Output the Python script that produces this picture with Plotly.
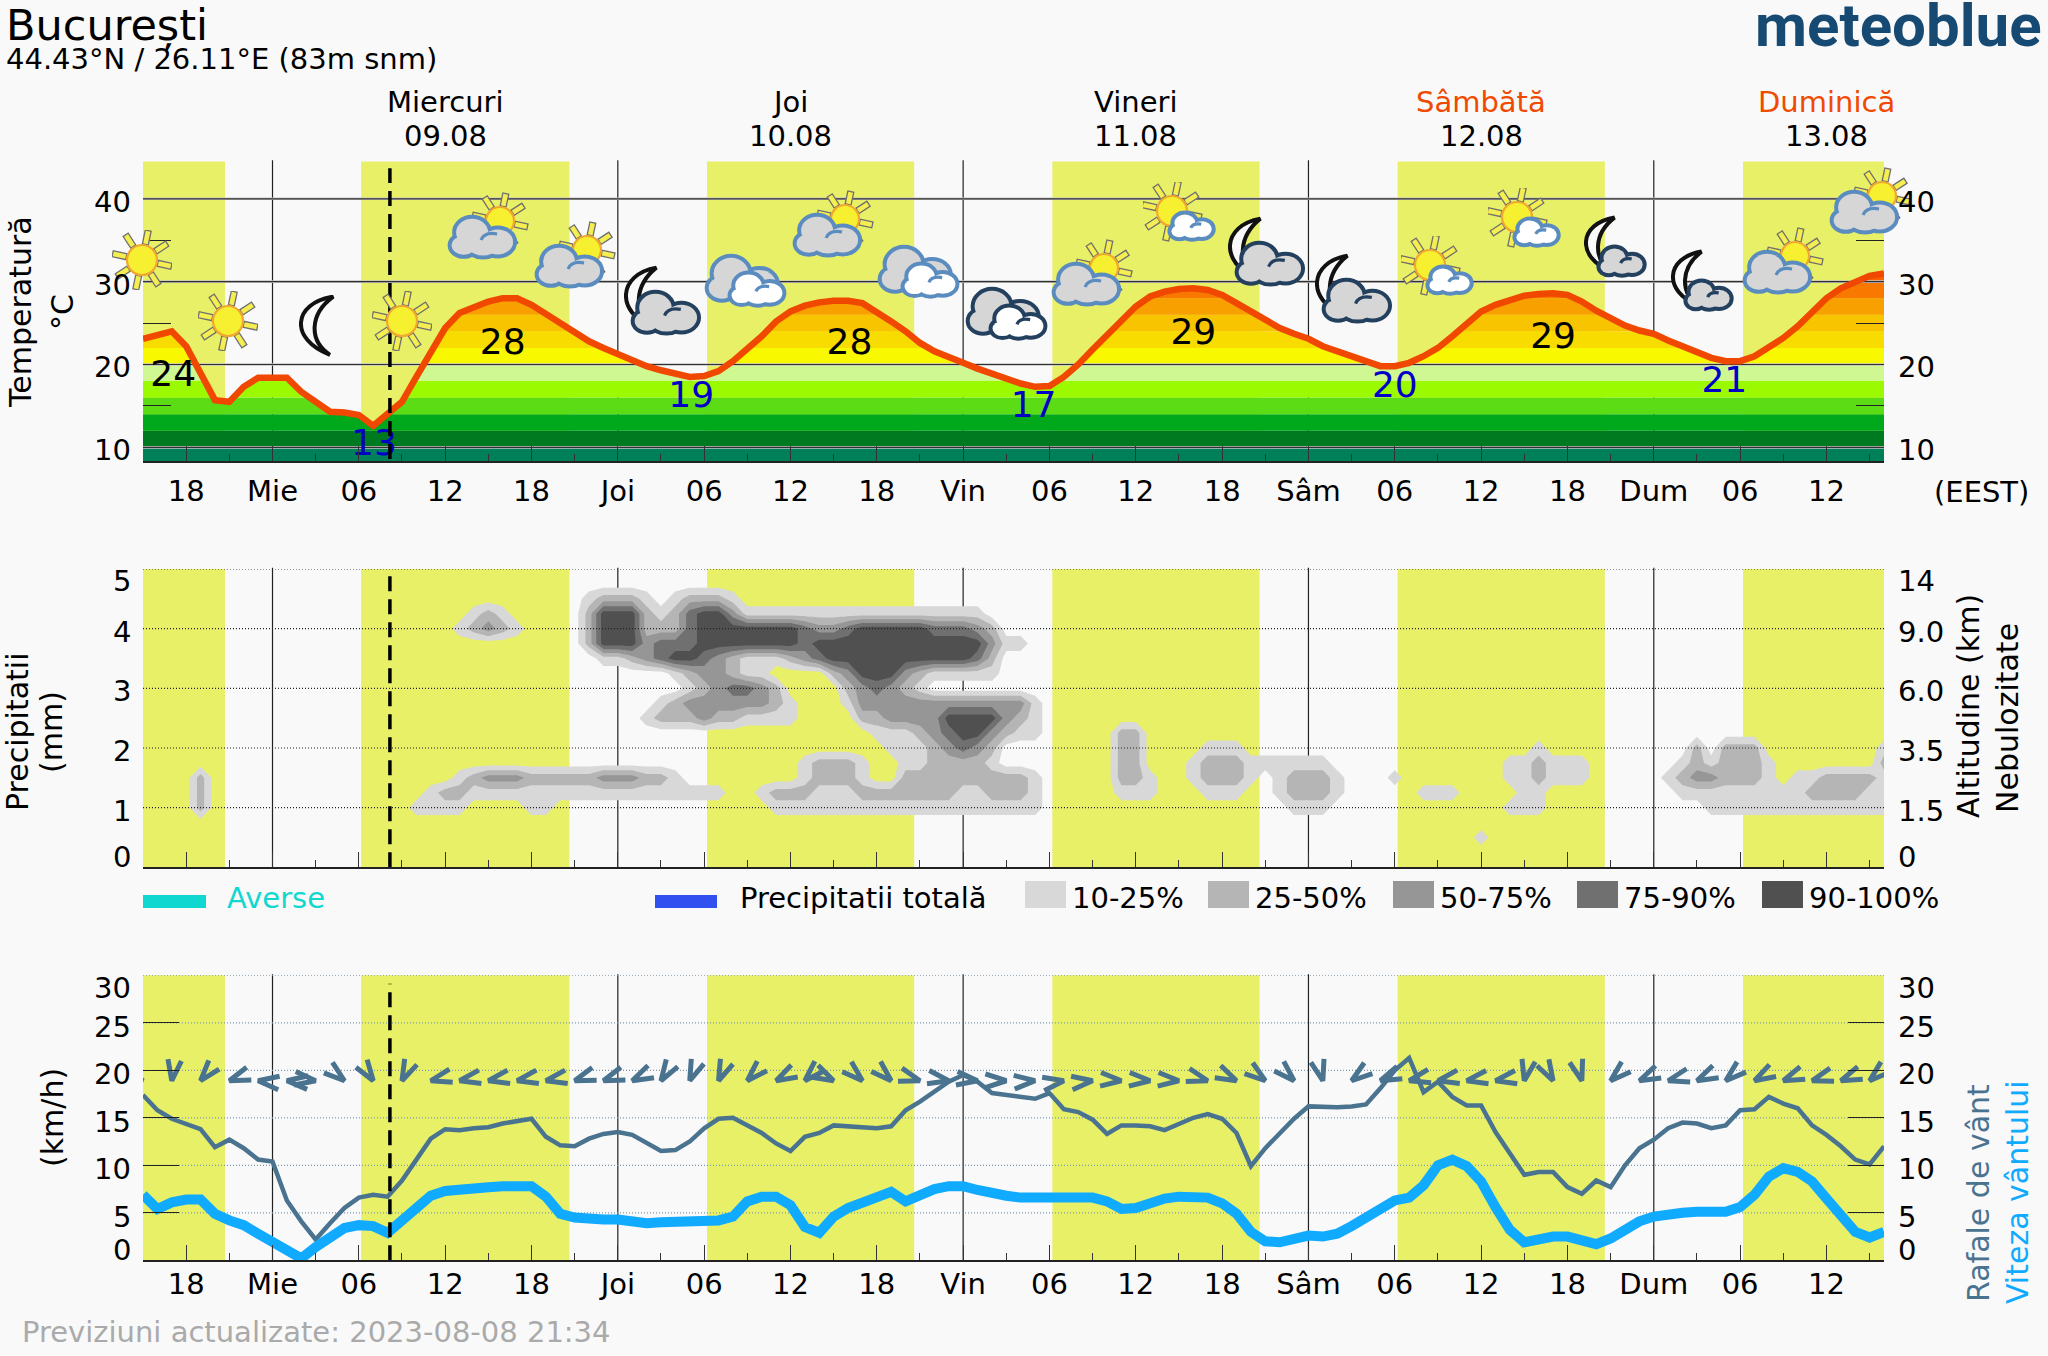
import base64
import math
import numpy as np
import plotly.graph_objects as go

# ---------- data ----------
HOURS = list(range(-9, 113))   # hours from 09.08 00:00 (EEST)
TEMPERATURE = [23.1, 23.6, 24.0, 22.2, 19.0, 15.7, 15.5, 17.3, 18.4, 18.4, 18.4, 16.7, 15.5, 14.3, 14.2, 13.9, 12.6, 14.1, 15.5,
               18.5, 21.4, 24.4, 26.2, 27.0, 27.6, 28.0, 28.0, 27.2, 26.1, 25.0, 23.8, 22.8, 22.0, 21.2, 20.4, 19.8, 19.3,
               18.9, 18.5, 18.6, 19.2, 20.4, 21.8, 23.4, 25.2, 26.4, 27.1, 27.5, 27.7, 27.7, 27.4, 26.4, 25.2, 24.0, 22.6,
               21.6, 21.0, 20.2, 19.5, 18.9, 18.2, 17.7, 17.3, 17.4, 18.5, 20.0, 21.8, 23.6, 25.4, 27.0, 28.2, 28.8, 29.1,
               29.2, 29.0, 28.4, 27.4, 26.4, 25.3, 24.4, 23.7, 23.1, 22.2, 21.6, 20.8, 20.2, 19.8, 19.8, 20.2, 21.0, 22.0,
               23.4, 24.8, 26.4, 27.2, 27.8, 28.3, 28.5, 28.6, 28.4, 27.6, 26.5, 25.5, 24.7, 24.1, 23.7, 22.9, 22.2, 21.4,
               20.8, 20.4, 20.4, 21.0, 22.0, 23.2, 24.6, 26.4, 28.0, 29.2, 30.0, 30.7, 31.0]
GUSTS = [17.4, 15.8, 14.9, 14.3, 13.8, 11.9, 12.7, 11.8, 10.6, 10.4, 6.3, 4.1, 2.2, 3.9, 5.5, 6.6, 6.9, 6.7, 8.4, 10.6, 12.8,
         13.8, 13.7, 13.9, 14.0, 14.4, 14.6, 14.9, 13.0, 12.1, 12.0, 12.8, 13.3, 13.5, 13.2, 12.3, 11.5, 11.6, 12.5, 13.9,
         14.9, 15.0, 14.2, 13.4, 12.3, 11.5, 13.0, 13.4, 14.2, 14.1, 14.0, 13.9, 14.1, 15.8, 16.7, 17.7, 18.8, 19.5, 18.8,
         17.6, 17.4, 17.2, 17.0, 17.6, 15.9, 15.6, 14.8, 13.3, 14.2, 14.2, 14.1, 13.7, 14.4, 15.0, 15.4, 14.9, 13.4, 9.9,
         11.8, 13.4, 14.9, 16.2, 16.1, 16.1, 16.2, 16.4, 18.1, 20.0, 21.3, 17.7, 18.8, 17.2, 16.3, 16.3, 13.5, 11.3, 9.0,
         9.3, 9.3, 7.7, 7.0, 8.4, 7.7, 10.0, 11.8, 12.7, 13.9, 14.5, 14.4, 13.9, 14.2, 15.8, 15.9, 17.2, 16.5, 16.0, 14.2,
         13.2, 12.0, 10.6, 10.1, 12.0]
WIND = [6.9, 5.4, 6.1, 6.4, 6.4, 4.9, 4.2, 3.7, 2.8, 2.0, 1.0, 0.2, 1.4, 2.5, 3.4, 3.7, 3.6, 2.9, 4.1, 5.5, 6.8, 7.3, 7.5, 7.6,
        7.7, 7.8, 7.8, 7.8, 6.7, 4.9, 4.5, 4.3, 4.3, 4.3, 4.1, 3.9, 4.0, 4.1, 4.1, 4.2, 4.2, 4.6, 6.2, 6.7, 6.7, 5.8, 3.5,
        2.9, 4.6, 5.5, 6.0, 6.7, 7.2, 6.2, 6.9, 7.5, 7.8, 7.8, 7.4, 7.0, 6.8, 6.6, 6.6, 6.6, 6.5, 6.5, 6.6, 6.2, 5.4, 5.5,
        6.1, 6.5, 6.7, 6.7, 6.6, 6.0, 4.9, 3.0, 2.0, 1.9, 2.3, 2.6, 2.5, 2.8, 3.6, 4.6, 5.6, 6.3, 6.6, 7.9, 10.0, 10.6, 9.9,
        8.3, 5.6, 3.2, 1.9, 2.2, 2.5, 2.5, 2.1, 1.7, 2.3, 3.3, 4.1, 4.6, 4.9, 5.0, 5.1, 5.1, 5.1, 5.6, 6.9, 8.8, 9.7, 9.3,
        8.3, 6.5, 4.8, 3.0, 2.4, 3.0]
ARROW_HOURS = list(range(-9, 112, 2))
ARROW_ANGLES = [110, 188, 220, 250, 276, 275, 97, 129, 146, 205, 256, 259, 259, 259, 259, 251, 250, 244, 212, 202, 203, 225,
                242, 225, 117, 132, 133, 107, 100, 97, 90, 86, 81, 84, 94, 94, 94, 106, 116, 127, 134, 165, 233, 247, 257, 259,
                260, 260, 192, 151, 164, 228, 245, 255, 244, 229, 241, 248, 253, 248, 229]
ARROW_LEVEL = 18.9
SUN_UP = [-9, 6.16, 30.2, 54.2, 78.2, 102.2]
SUN_DOWN = [-3.3, 20.64, 44.6, 68.6, 92.6, 112]
MIDNIGHTS = [0, 24, 48, 72, 96]
NOW_HOUR = 8.16

TEMP_BAND_EDGES = [8.3, 10, 12, 14, 16, 18, 20, 22, 24, 26, 28, 30, 32]
TEMP_BAND_COLORS = ["#008058", "#007a20", "#00a81c", "#5cdc14", "#9cfa00", "#d0f892",
                    "#f8f800", "#f8dc00", "#f8c400", "#f8a000", "#f87800", "#f86000"]
EXTREME_HOURS = [-6.9, 16.0, 7.05, 29.1, 40.1, 52.9, 64.0, 78.0, 89.0, 100.9]
EXTREME_LEVELS = [18.5, 22.4, 10.15, 16.0, 22.4, 14.8, 23.6, 17.2, 23.1, 17.8]
EXTREME_TEXT = ["24", "28", "13", "19", "28", "17", "29", "20", "29", "21"]
EXTREME_COLOR = ["black", "black", "#0000c8", "#0000c8", "black", "#0000c8", "black", "#0000c8", "black", "#0000c8"]

DAY_NAMES = ["Miercuri", "Joi", "Vineri", "Sâmbătă", "Duminică"]
DAY_DATES = ["09.08", "10.08", "11.08", "12.08", "13.08"]
DAY_COLORS = ["black", "black", "black", "#f04a00", "#f04a00"]
X_TICKS = [-6, 0, 6, 12, 18, 24, 30, 36, 42, 48, 54, 60, 66, 72, 78, 84, 90, 96, 102, 108]
X_LABELS = ["18", "Mie", "06", "12", "18", "Joi", "06", "12", "18", "Vin", "06", "12", "18", "Sâm", "06", "12", "18", "Dum", "06", "12"]
X_MINOR = [-3, 3, 9, 15, 21, 27, 33, 39, 45, 51, 57, 63, 69, 75, 81, 87, 93, 99, 105, 111]

TEMP_TICKS = [10, 20, 30, 40]
TEMP_MINOR = [15, 25, 35]
PREC_TICKS = [0, 1, 2, 3, 4, 5]
ALTITUDE_LABELS = ["0", "1.5", "3.5", "6.0", "9.0", "14"]
WIND_TICKS = [0, 5, 10, 15, 20, 25, 30]

# cloud cover class (0 <10%, 1 10-25, 2 25-50, 3 50-75, 4 75-90, 5 90-100) by height row; (first hour, classes per hour)
CLOUD_CLASS_ROWS = {
    4.5: [(21, "0122210122210")],
    4.25: [(14, "121"), (21, "0255521245531"), (34, "1111111111111111")],
    4.0: [(13, "12321"), (21, "025552"), (27, "224"), (30, "5555555"), (37, "4334"), (41, "55555"), (46, "444"), (49, "320")],
    3.75: [(21, "025553444"), (30, "5555555"), (37, "4"), (38, "555555555555"), (50, "3110")],
    3.5: [(23, "112345543211123455"), (41, "55555555"), (49, "420")],
    3.25: [(28, "123321100"), (39, "2355532"), (46, "11111")],
    3.0: [(29, "12344320"), (40, "234321")],
    2.75: [(27, "1233333321000"), (40, "1"), (41, "333333333333"), (53, "1")],
    2.5: [(26, "122232211110000"), (41, "223333"), (47, "5555"), (51, "321")],
    2.25: [(42, "111234553"), (51, "211"), (59, "22")],
    2.0: [(43, "11123432"), (59, "22"), (65, "111"), (88, "1"), (99, "20222"), (112, "1")],
    1.75: [(37, "12221"), (44, "1"), (45, "122221"), (59, "22"), (64, "1222111111"), (86, "112111"), (98, "1212221"), (112, "2")],
    1.5: [(-5, "2"), (13, "1233322"), (20, "222333221"), (37, "12221"), (44, "222222222"), (53, "1"), (59, "221"),
          (64, "12221012221"), (78, "1"), (86, "112111"), (97, "1233222101122221")],
    1.25: [(-5, "2"), (11, "122111111"), (20, "111111111111"), (34, "1222111222222211222" + "1"), (59, "111"), (65, "111"),
           (70, "12221"), (80, "111"), (87, "11"), (98, "111111111222211")],
    1.0: [(-5, "2"), (10, "1111"), (18, "11"), (35, "1111111111111111111"), (71, "111"), (86, "111"), (100, "1111111111111")],
    0.5: [(84, "1")],
}
CLOUD_HEIGHTS = [i * 0.25 for i in range(21)]
CLOUD_COLORS = ["rgba(0,0,0,0)", "#d8d8d8", "#b5b5b5", "#969696", "#707070", "#505050"]
CLOUD_LEGEND = ["10-25%", "25-50%", "50-75%", "75-90%", "90-100%"]

ICONS = [("sun", 112, 230), ("sun", 198, 291), ("moon", 299, 295), ("sun", 372, 291), ("suncloud", 447, 192),
         ("suncloud", 534, 221), ("mooncloud", 624, 265), ("dcloud", 704, 253), ("suncloud", 792, 190), ("dcloud", 877, 244),
         ("dclouddark", 965, 286), ("suncloud", 1051, 239), ("sunsmall", 1143, 182), ("mooncloud", 1228, 216),
         ("mooncloud", 1315, 253), ("sunsmall", 1401, 236), ("sunsmall", 1488, 188), ("moonsmall", 1584, 215),
         ("moonsmall", 1671, 249), ("suncloud", 1742, 227), ("suncloud", 1829, 167)]

# ---------- page geometry ----------
W, H = 2048, 1356
BG = "#f9f9f9"
YELLOW = "#e8f068"
FONT = "DejaVu Sans"
TXT = 29
L_PX, R_PX = 143, 1884
DOM = {"": (161.5, 461), "2": (569, 867.3), "3": (975.3, 1260.3)}
RANGE = {"": (8.35, 44.5), "2": (0, 5), "3": (0, 30)}
STANDOFF = {"": 3, "2": 0, "3": -3}


def fx(p):
    return p / W


def fy(p):
    return 1 - p / H


# ---------- icons ----------
BLUE_ST = "#5b8cc0"
DARK_ST = "#24405f"


def sun(cx, cy, R=30, r=15):
    s = ""
    for i in range(8):
        a = 12 + 45 * i
        s += (f'<rect x="{cx-3}" y="{cy-R}" width="6" height="{R-r-1}" fill="#f5ee50" stroke="#6f6f6f" stroke-width="1.3" '
              f'transform="rotate({a} {cx} {cy})"/>')
    s += f'<circle cx="{cx}" cy="{cy}" r="{r}" fill="#f7f030" stroke="#f0a830" stroke-width="2.2"/>'
    return s


def cloud(x, y, w, h, fill, stroke, sw=4):
    lobes = [(.33, .38, .25, .36), (.73, .63, .24, .33), (.2, .72, .19, .25), (.5, .8, .2, .19)]
    out = inn = ""
    for lx, ly, rx, ry in lobes:
        cx, cy = x + lx * w, y + ly * h
        out += f'<ellipse cx="{cx}" cy="{cy}" rx="{rx*w}" ry="{ry*h}" fill="{stroke}" stroke="{stroke}" stroke-width="{2*sw}"/>'
        inn += f'<ellipse cx="{cx}" cy="{cy}" rx="{rx*w}" ry="{ry*h}" fill="{fill}"/>'
    curl = (f'<path d="M{x+.47*w} {y+.58*h} Q{x+.52*w} {y+.36*h} {x+.72*w} {y+.42*h}" fill="none" '
            f'stroke="{stroke}" stroke-width="{sw*.8}"/>')
    return out + inn + curl


def moon(x, y, w, h):
    def X(u):
        return x + u * w

    def Y(v):
        return y + v * h
    return (f'<path d="M{X(.95)} {Y(.01)} C{X(-.25)} {Y(.12)} {X(-.35)} {Y(.72)} {X(.85)} {Y(.98)} '
            f'C{X(.22)} {Y(.74)} {X(.25)} {Y(.30)} {X(.95)} {Y(.01)} Z" fill="{BG}" stroke="#111" stroke-width="4"/>')


def icon_body(kind):
    if kind == "sun":
        return 60, 60, sun(30, 30)
    if kind == "moon":
        return 38, 62, moon(2, 1, 34, 60)
    if kind == "suncloud":
        return 84, 68, sun(53, 29, 28, 14) + cloud(4, 26, 64, 38, "#d6d6d6", BLUE_ST)
    if kind == "dcloud":
        return 85, 55, cloud(4, 4, 70, 43, "#d6d6d6", BLUE_ST) + cloud(27, 21, 53, 30, "#ffffff", BLUE_ST)
    if kind == "dclouddark":
        return 85, 55, cloud(4, 4, 70, 43, "#d6d6d6", DARK_ST) + cloud(27, 21, 53, 30, "#ffffff", DARK_ST)
    if kind == "sunsmall":
        return 74, 60, sun(29, 29) + cloud(28, 32, 42, 24, "#ffffff", BLUE_ST)
    if kind == "mooncloud":
        return 79, 71, moon(2, 2, 32, 62) + cloud(10, 28, 65, 39, "#d6d6d6", DARK_ST)
    return 64, 63, moon(2, 2, 30, 56) + cloud(16, 33, 44, 26, "#d6d6d6", DARK_ST)


images = []
for kind, left, top in ICONS:
    iw, ih, body = icon_body(kind)
    svg = f'<svg xmlns="http://www.w3.org/2000/svg" width="{iw}" height="{ih}" viewBox="0 0 {iw} {ih}">{body}</svg>'
    uri = "data:image/svg+xml;base64," + base64.b64encode(svg.encode()).decode()
    images.append(dict(source=uri, xref="paper", yref="paper", x=fx(left), y=fy(top), sizex=iw / W, sizey=ih / H,
                       xanchor="left", yanchor="top", sizing="stretch", layer="above"))

# ---------- traces ----------
fig = go.Figure()
X0, X1 = HOURS[0], HOURS[-1]

grid = np.linspace(X0, X1, 2421)
temp_fine = np.interp(grid, HOURS, TEMPERATURE)
for lo, hi, col in zip(TEMP_BAND_EDGES[:-1], TEMP_BAND_EDGES[1:], TEMP_BAND_COLORS):
    top = np.minimum(temp_fine, hi)
    bot = np.minimum(temp_fine, lo)
    fig.add_trace(go.Scatter(x=np.r_[grid, grid[::-1]], y=np.r_[top, bot[::-1]], fill="toself", fillcolor=col,
                             mode="none", hoverinfo="skip", showlegend=False))


def hline(val, ax, color, width, dash="solid"):
    fig.add_trace(go.Scatter(x=[X0, X1], y=[val, val], mode="lines", line=dict(color=color, width=width, dash=dash),
                             xaxis="x" + ax, yaxis="y" + ax, hoverinfo="skip", showlegend=False))


for t in TEMP_TICKS:
    hline(t, "", "#c4c4c4", 2.6)
    hline(t, "", "#303030", 1.2)
fig.add_trace(go.Scatter(x=HOURS, y=TEMPERATURE, mode="lines", line=dict(color="#f04800", width=6.5), hoverinfo="skip",
                         showlegend=False, cliponaxis=False))
fig.add_trace(go.Scatter(x=EXTREME_HOURS, y=EXTREME_LEVELS, mode="text", text=EXTREME_TEXT, hoverinfo="skip", showlegend=False,
                         textfont=dict(family=FONT, size=36, color=EXTREME_COLOR), textposition="middle center", cliponaxis=False))

z = np.zeros((len(CLOUD_HEIGHTS), len(HOURS)))
for i, lev in enumerate(CLOUD_HEIGHTS):
    for start, digits in CLOUD_CLASS_ROWS.get(lev, []):
        for k, ch in enumerate(digits):
            z[i, start + k - X0] = int(ch)
fig.add_trace(go.Contour(x=HOURS, y=CLOUD_HEIGHTS, z=z, xaxis="x2", yaxis="y2", zmin=0, zmax=5, showscale=False, hoverinfo="skip",
                         contours=dict(start=0.5, end=4.5, size=1, coloring="fill", showlines=False), line=dict(width=0, smoothing=0),
                         colorscale=[[i / 5, c] for i, c in enumerate(CLOUD_COLORS)]))
for t in PREC_TICKS[1:]:
    hline(t, "2", "#222222", 1.2, "1px,2px")

for t in WIND_TICKS[1:]:
    hline(t, "3", "#7e9ab0", 1.2, "1px,2px")
fig.add_trace(go.Scatter(x=HOURS, y=GUSTS, mode="lines", line=dict(color="#4a7390", width=4.5), xaxis="x3", yaxis="y3",
                         hoverinfo="skip", showlegend=False))
fig.add_trace(go.Scatter(x=HOURS, y=WIND, mode="lines", line=dict(color="#10aaff", width=10), xaxis="x3", yaxis="y3",
                         hoverinfo="skip", showlegend=False, cliponaxis=False))

# chevrons: tip on the data point, arms computed from the direction using the panel's pixel scale
PX_PER_H = (R_PX - L_PX) / (X1 - X0)
PX_PER_V = (DOM["3"][1] - DOM["3"][0]) / 30
ARM, SPREAD = 22, 18
ax_x, ax_y = [], []
for hr, ang in zip(ARROW_HOURS, ARROW_ANGLES):
    a1, a2 = math.radians(ang - SPREAD), math.radians(ang + SPREAD)
    ax_x += [hr - ARM * math.sin(a1) / PX_PER_H, hr, hr - ARM * math.sin(a2) / PX_PER_H, None]
    ax_y += [ARROW_LEVEL - ARM * math.cos(a1) / PX_PER_V, ARROW_LEVEL, ARROW_LEVEL - ARM * math.cos(a2) / PX_PER_V, None]
fig.add_trace(go.Scatter(x=ax_x, y=ax_y, mode="lines", xaxis="x3", yaxis="y3", hoverinfo="skip", showlegend=False, cliponaxis=False,
                         line=dict(color="#4a7390", width=5)))

for ax, (y0, y1) in {"": (8.6, 43.7), "2": (0, 4.9), "3": (0, 29.1)}.items():
    fig.add_trace(go.Scatter(x=[NOW_HOUR, NOW_HOUR], y=[y0, y1], mode="lines", xaxis="x" + ax, yaxis="y" + ax, hoverinfo="skip",
                             showlegend=False, line=dict(color="black", width=3.5, dash="15px,8px")))

# ---------- shapes ----------
shapes = []
for ax in DOM:
    for a, b in zip(SUN_UP, SUN_DOWN):
        shapes.append(dict(type="rect", xref="x" + ax, yref=f"y{ax} domain", x0=a, x1=b, y0=0, y1=1, fillcolor=YELLOW,
                           line_width=0, layer="below"))
    for m in MIDNIGHTS:
        shapes.append(dict(type="line", xref="x" + ax, yref=f"y{ax} domain", x0=m, x1=m, y0=0, y1=1.004,
                           line=dict(color="#222222", width=1.2), layer="below"))


def swatch(x0, x1, y0, y1, color):
    shapes.append(dict(type="rect", xref="paper", yref="paper", x0=fx(x0), x1=fx(x1), y0=fy(y0), y1=fy(y1),
                       fillcolor=color, line_width=0))


swatch(143, 206, 895, 908, "#10d8d0")
swatch(655, 717, 895, 908, "#3050f0")
SW_X = [1025, 1208, 1393, 1577, 1762]
for x0, c in zip(SW_X, CLOUD_COLORS[1:]):
    swatch(x0, x0 + 41, 881, 908, c)

# ---------- texts ----------
ann = []


def text(x, y, s, size=TXT, color="black", anchor="left", angle=0, **kw):
    ann.append(dict(x=fx(x), y=fy(y), xref="paper", yref="paper", text=s, showarrow=False, xanchor=anchor, yanchor="middle",
                    textangle=angle, font=dict(family=FONT, size=size, color=color), **kw))


text(4, 25, "București", size=43)
text(4, 59, "44.43°N / 26.11°E (83m snm)", size=29)
text(2044, 25, "<b>meteoblue</b>", size=60, color="#164a72", anchor="right")
ann[-1]["font"]["family"] = "Roboto"
for i, (n, d, c) in enumerate(zip(DAY_NAMES, DAY_DATES, DAY_COLORS)):
    ann.append(dict(x=12 + 24 * i, y=fy(102), xref="x", yref="paper", text=n, showarrow=False, yanchor="middle",
                    font=dict(family=FONT, size=TXT, color=c)))
    ann.append(dict(x=12 + 24 * i, y=fy(136), xref="x", yref="paper", text=d, showarrow=False, yanchor="middle",
                    font=dict(family=FONT, size=TXT)))
text(1981, 492, "(EEST)", anchor="center")
text(20, 312, "Temperatură", size=30, anchor="center", angle=-90)
text(62, 312, "°C", size=30, anchor="center", angle=-90)
text(18, 732, "Precipitatii", size=30, anchor="center", angle=-90)
text(52, 732, "(mm)", size=30, anchor="center", angle=-90)
text(1968, 706, "Altitudine (km)", size=30, anchor="center", angle=-90)
text(2007, 718, "Nebulozitate", size=30, anchor="center", angle=-90)
text(52, 1118, "(km/h)", size=30, anchor="center", angle=-90)
text(1978, 1193, "Rafale de vânt", size=30, color="#4a7390", anchor="center", angle=-90)
text(2017, 1192, "Viteza vântului", size=30, color="#10aaff", anchor="center", angle=-90)
text(225, 898, "Averse", color="#10d8d0")
text(738, 898, "Precipitatii totală")
for x0, s in zip(SW_X, CLOUD_LEGEND):
    text(x0 + 45, 898, s)
text(20, 1332, "Previziuni actualizate: 2023-08-08 21:34", color="#aaaaaa")


def ylabel(ax, val, left, right, shift):
    for px, s, anc in ((133, left, "right"), (1896, right, "left")):
        ann.append(dict(x=fx(px), y=val, xref="paper", yref="y" + ax, text=s, showarrow=False, xanchor=anc, yanchor="middle",
                        yshift=shift, font=dict(family=FONT, size=TXT)))


for t in TEMP_TICKS:
    ylabel("", t, str(t), str(t), -3)
for t, a in zip(PREC_TICKS, ALTITUDE_LABELS):
    ylabel("2", t, str(t), a, 10 if t == 0 else (-12 if t == 5 else -3))
for t in WIND_TICKS:
    ylabel("3", t, str(t), str(t), 10 if t == 0 else (-13 if t == 30 else -4))

# ---------- axes ----------
layout = dict(width=W, height=H, margin=dict(l=0, r=0, t=0, b=0), paper_bgcolor=BG, plot_bgcolor=BG, showlegend=False,
              shapes=shapes, annotations=ann, images=images, font=dict(family=FONT, size=TXT, color="black"))
for ax, (top, bot) in DOM.items():
    layout["xaxis" + ax] = dict(domain=[fx(L_PX), fx(R_PX)], range=[X0, X1], anchor="y" + ax, tickmode="array", tickvals=X_TICKS,
                                ticktext=X_LABELS, ticks="inside", ticklen=15, tickcolor="#333333", tickwidth=1.2,
                                minor=dict(tickmode="array", tickvals=X_MINOR, ticks="inside", ticklen=7, tickcolor="#333333", tickwidth=1.2),
                                showgrid=False, zeroline=False, showline=True, linecolor="#222222", linewidth=2, layer="above traces",
                                showticklabels=ax != "2", ticklabelstandoff=STANDOFF[ax], tickfont=dict(family=FONT, size=TXT))
    yax = dict(domain=[fy(bot), fy(top)], range=list(RANGE[ax]), anchor="x" + ax, showgrid=False, zeroline=False, showticklabels=False,
               tickcolor="#222222", tickwidth=1.3, mirror="ticks", layer="above traces")
    if ax == "":
        yax.update(tickmode="array", tickvals=TEMP_MINOR, ticks="inside", ticklen=28)
    elif ax == "3":
        yax.update(tickmode="array", tickvals=WIND_TICKS, ticks="inside", ticklen=36)
    else:
        yax.update(ticks="", tickvals=[])
    layout["yaxis" + ax] = yax
fig.update_layout(**layout)
fig.write_html("out.html", config={"displayModeBar": False},
               post_script="document.body.style.margin='0';document.body.style.background='#f9f9f9';document.body.style.overflow='hidden';")
